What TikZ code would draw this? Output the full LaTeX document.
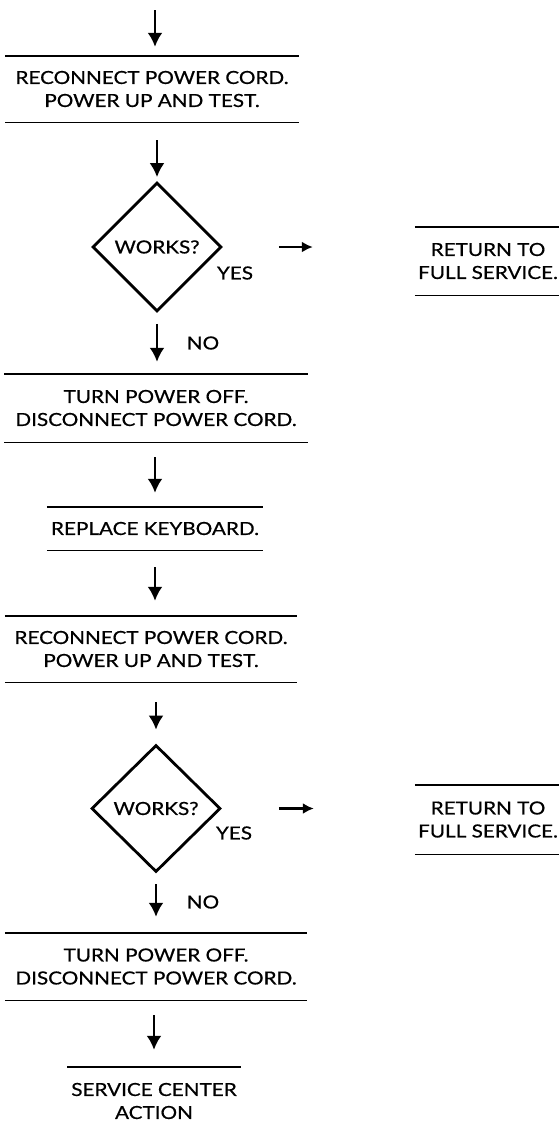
\documentclass[tikz,border=0pt]{standalone}
\usepackage{fontspec}
\setmainfont{Lato}[FakeStretch=1.15, FakeBold=0.6]
\usetikzlibrary{shapes.geometric, arrows.meta, positioning, calc}

\begin{document}
\begin{tikzpicture}[x=1pt,y=1pt,
  font=\fontsize{18}{23}\selectfont,
  stepbox/.style={align=center, inner sep=0pt, minimum height=66pt},
  decision/.style={diamond, draw, line width=2.8pt, inner sep=0pt,
    minimum width=129pt, minimum height=129pt},
  rule/.style={line width=1.4pt},
  flow/.style={-{Latex[length=14pt,width=15pt]}, line width=2.4pt},
  side/.style={-{Latex[length=11pt,width=11pt]}, line width=2.2pt}]
  \useasboundingbox (0,0) rectangle (558,-1130);

  % ---------- primeiro teste ----------
  \coordinate (start) at (155,-10);
  \node[stepbox, minimum width=293pt] (rc1) at (152,-89)
    {RECONNECT POWER CORD.\\ POWER UP AND TEST.};
  \node[decision] (ok1) at (157,-247) {WORKS?};
  \node[stepbox, minimum width=146pt, minimum height=68pt] (ret1) at (488,-261)
    {RETURN TO\\ FULL SERVICE.};
  \node (yes1) at (235,-273) {YES};
  \node (no1) at (203,-343) {NO};

  % ---------- troca do teclado ----------
  \node[stepbox, minimum width=303pt, minimum height=68pt] (off1) at (156,-408)
    {TURN POWER OFF.\\ DISCONNECT POWER CORD.};
  \node[stepbox, minimum width=216pt, minimum height=43pt] (kbd) at (155,-528.5)
    {REPLACE KEYBOARD.};
  \node[stepbox, minimum width=292pt] (rc2) at (151,-649)
    {RECONNECT POWER CORD.\\ POWER UP AND TEST.};

  % ---------- segundo teste ----------
  \node[decision, minimum height=127pt] (ok2) at (156,-808.5) {WORKS?};
  \node[stepbox, minimum width=146pt, minimum height=69pt] (ret2) at (488,-819.5)
    {RETURN TO\\ FULL SERVICE.};
  \node (yes2) at (234,-833) {YES};
  \node (no2) at (203,-902) {NO};
  \node[stepbox, minimum width=302pt, minimum height=67pt] (off2) at (156,-966.5)
    {TURN POWER OFF.\\ DISCONNECT POWER CORD.};
  \node[stepbox, minimum width=173pt, minimum height=68pt] (svc) at (154,-1101)
    {SERVICE CENTER\\ ACTION};

  % linhas de cima e de baixo das caixas
  \foreach \n in {rc1, ret1, off1, kbd, rc2, ret2, off2}
    \draw[rule] (\n.north west) -- (\n.north east) (\n.south west) -- (\n.south east);
  \draw[rule] (svc.north west) -- (svc.north east);

  % setas verticais
  \draw[flow, shorten >=9pt] (start) -- (start |- rc1.north);
  \draw[flow, shorten <=18pt, shorten >=4pt] (rc1.south -| ok1.north) -- (ok1.north);
  \draw[flow, shorten <=11pt, shorten >=12pt] (ok1.south) -- (ok1.south |- off1.north);
  \draw[flow, shorten <=15pt, shorten >=14pt] (off1.south -| kbd.north) -- (kbd.north);
  \draw[flow, shorten <=17pt, shorten >=15pt] (kbd.south) -- (kbd.south |- rc2.north);
  \draw[flow, shorten <=20pt, shorten >=14pt] (rc2.south -| ok2.north) -- (ok2.north);
  \draw[flow, shorten <=11pt, shorten >=16pt] (ok2.south) -- (ok2.south |- off2.north);
  \draw[flow, shorten <=15pt, shorten >=17pt] (off2.south -| svc.north) -- (svc.north);

  % setas do YES
  \draw[side, shorten <=56pt, shorten >=102pt] (ok1.east) -- (ok1.east -| ret1.west);
  \draw[side, shorten <=57pt, shorten >=101pt] (ok2.east) -- (ok2.east -| ret2.west);
\end{tikzpicture}
\end{document}
